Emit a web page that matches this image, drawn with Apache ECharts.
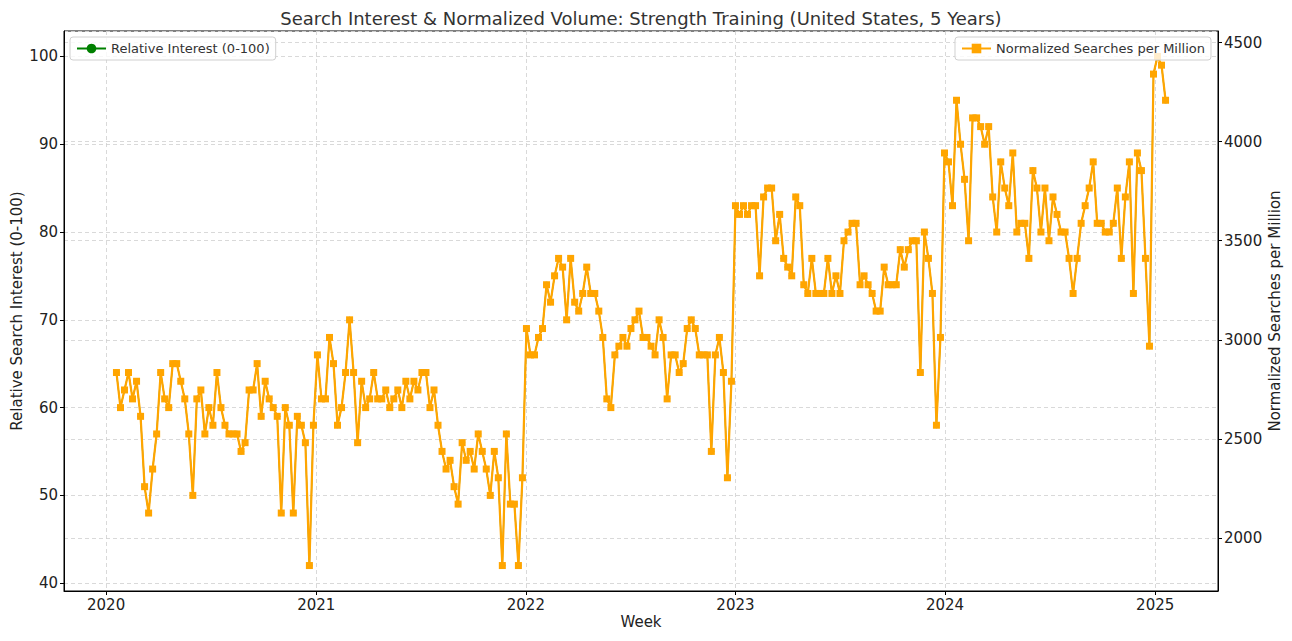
<!DOCTYPE html>
<html>
<head>
<meta charset="utf-8">
<script src="https://cdn.jsdelivr.net/npm/echarts@6/dist/echarts.min.js"></script>
<style>
html,body{margin:0;padding:0;background:#fff;}
#chart{width:1292px;height:641px;}
</style>
</head>
<body>
<div id="chart"></div>
<script>
// ---- Data (weekly, first week starting 2020-01-19) ----
const firstWeek = [2020, 0, 19];

const relativeInterest = [
  64,60,62,64,61,63,59,51,48,53,
  57,64,61,60,65,65,63,61,57,50,
  61,62,57,60,58,64,60,58,57,57,
  57,55,56,62,62,65,59,63,61,60,
  59,48,60,58,48,59,58,56,42,58,
  66,61,61,68,65,58,60,64,70,64,
  56,63,60,61,64,61,61,62,60,61,
  62,60,63,61,63,62,64,64,60,62,
  58,55,53,54,51,49,56,54,55,53,
  57,55,53,50,55,52,42,57,49,49,
  42,52,69,66,66,68,69,74,72,75,
  77,76,70,77,72,71,73,76,73,73,
  71,68,61,60,66,67,68,67,69,70,
  71,68,68,67,66,70,68,61,66,66,
  64,65,69,70,69,66,66,66,55,66,
  68,64,52,63,83,82,83,82,83,83,
  75,84,85,85,79,82,77,76,75,84,
  83,74,73,77,73,73,73,77,73,75,
  73,79,80,81,81,74,75,74,73,71,
  71,76,74,74,74,78,76,78,79,79,
  64,80,77,73,58,68,89,88,83,95,
  90,86,79,93,93,92,90,92,84,80,
  88,85,83,89,80,81,81,77,87,85,
  80,85,79,84,82,80,80,77,73,77,
  81,83,85,88,81,81,80,80,81,85,
  77,84,88,73,89,87,77,67,98,100,99,95
];

const searchesPerMillion = [
  2835,2658,2747,2835,2702,2791,2614,2259,2126,2348,
  2525,2835,2702,2658,2880,2880,2791,2702,2525,2215,
  2702,2747,2525,2658,2569,2835,2658,2569,2525,2525,
  2525,2437,2481,2747,2747,2880,2614,2791,2702,2658,
  2614,2126,2658,2569,2126,2614,2569,2481,1861,2569,
  2924,2702,2702,3012,2880,2569,2658,2835,3101,2835,
  2481,2791,2658,2702,2835,2702,2702,2747,2658,2702,
  2747,2658,2791,2702,2791,2747,2835,2835,2658,2747,
  2569,2437,2348,2392,2259,2171,2481,2392,2437,2348,
  2525,2437,2348,2215,2437,2304,1861,2525,2171,2171,
  1861,2304,3057,2924,2924,3012,3057,3278,3190,3323,
  3411,3367,3101,3411,3190,3145,3234,3367,3234,3234,
  3145,3012,2702,2658,2924,2968,3012,2968,3057,3101,
  3145,3012,3012,2968,2924,3101,3012,2702,2924,2924,
  2835,2880,3057,3101,3057,2924,2924,2924,2437,2924,
  3012,2835,2304,2791,3677,3633,3677,3633,3677,3677,
  3323,3721,3766,3766,3500,3633,3411,3367,3323,3721,
  3677,3278,3234,3411,3234,3234,3234,3411,3234,3323,
  3234,3500,3544,3588,3588,3278,3323,3278,3234,3145,
  3145,3367,3278,3278,3278,3455,3367,3455,3500,3500,
  2835,3544,3411,3234,2569,3012,3943,3898,3677,4209,
  3987,3810,3500,4120,4120,4076,3987,4076,3721,3544,
  3898,3766,3677,3943,3544,3588,3588,3411,3854,3766,
  3544,3766,3500,3721,3633,3544,3544,3411,3234,3411,
  3588,3677,3766,3898,3588,3588,3544,3544,3588,3766,
  3411,3721,3898,3234,3943,3854,3411,2968,4341,4430,4386,4209
];

const seriesNames = ['Relative Interest (0-100)', 'Normalized Searches per Million'];
const titleText = 'Search Interest & Normalized Volume: Strength Training (United States, 5 Years)';
const xAxisTitle = 'Week';
const leftAxisTitle = 'Relative Search Interest (0-100)';
const rightAxisTitle = 'Normalized Searches per Million';

// ---- Build ----
const weeks = relativeInterest.map((_, i) =>
  new Date(firstWeek[0], firstWeek[1], firstWeek[2] + 7 * i).getTime());
const interestData = weeks.map((t, i) => [t, relativeInterest[i]]);
const searchesData = weeks.map((t, i) => [t, searchesPerMillion[i]]);

const span = weeks[weeks.length - 1] - weeks[0];
const xMin = weeks[0] - 0.05 * span;
const xMax = weeks[weeks.length - 1] + 0.05 * span;

const iMin = Math.min(...relativeInterest), iMax = Math.max(...relativeInterest);
const iPad = (iMax - iMin) * 0.05;
const sMin = Math.min(...searchesPerMillion), sMax = Math.max(...searchesPerMillion);
const sPad = (sMax - sMin) * 0.05;

const FONT = 'DejaVu Sans';
const YEAR = 365 * 24 * 3600 * 1000;

const chart = echarts.init(document.getElementById('chart'), null, {renderer: 'svg'});
const gridLine = {show: true, lineStyle: {color: '#cfcfcf', type: [4, 3], width: 0.8}};
const legendBase = {
  orient: 'vertical', backgroundColor: 'rgba(255,255,255,0.8)', borderColor: '#d0d0d0', borderWidth: 1, borderRadius: 3,
  padding: [5, 6, 5, 6], itemWidth: 29, itemHeight: 12, itemGap: 6, z: 10,
  textStyle: {fontFamily: FONT, fontSize: 13, color: '#333'}
};

chart.setOption({
  animation: false,
  backgroundColor: '#fff',
  textStyle: {fontFamily: FONT},
  graphic: [{
    type: 'text', x: 641, y: 18,
    style: {text: titleText, font: '18px "DejaVu Sans"', fill: '#333', textAlign: 'center', textVerticalAlign: 'middle'}
  }],
  grid: {left: 64, right: 74, top: 31, bottom: 50, outerBoundsMode: 'none', containLabel: false,
         show: true, borderColor: '#000', borderWidth: 1, backgroundColor: 'transparent'},
  legend: [
    Object.assign({data: [seriesNames[0]], left: 70, top: 37}, legendBase),
    Object.assign({data: [seriesNames[1]], right: 81, top: 37}, legendBase)
  ],
  xAxis: {
    type: 'time', min: xMin, max: xMax,
    minInterval: YEAR, maxInterval: YEAR * 1.01,
    name: xAxisTitle, nameLocation: 'middle', nameGap: 23, nameMoveOverlap: false,
    nameTextStyle: {fontFamily: FONT, fontSize: 15, color: '#222'},
    axisLine: {show: true, lineStyle: {color: '#000', width: 1}},
    axisTick: {show: true, length: 4, lineStyle: {color: '#000'}},
    axisLabel: {formatter: '{yyyy}', fontFamily: FONT, fontSize: 15, color: '#222', margin: 6, showMinLabel: false, showMaxLabel: false},
    splitLine: gridLine
  },
  yAxis: [
    {
      type: 'value', position: 'left', min: iMin - iPad, max: iMax + iPad,
      name: leftAxisTitle, nameLocation: 'middle', nameGap: 40, nameMoveOverlap: false,
      nameTextStyle: {fontFamily: FONT, fontSize: 15, color: '#222'},
      axisLine: {show: true, lineStyle: {color: '#000', width: 1}},
      axisTick: {show: true, length: 4, lineStyle: {color: '#000'}},
      axisLabel: {fontFamily: FONT, fontSize: 15, color: '#222', margin: 6, showMinLabel: false, showMaxLabel: false},
      splitLine: gridLine
    },
    {
      type: 'value', position: 'right', min: sMin - sPad, max: sMax + sPad,
      name: rightAxisTitle, nameLocation: 'middle', nameGap: 49, nameMoveOverlap: false,
      nameTextStyle: {fontFamily: FONT, fontSize: 15, color: '#222'},
      axisLine: {show: true, lineStyle: {color: '#000', width: 1}},
      axisTick: {show: true, length: 4, lineStyle: {color: '#000'}},
      axisLabel: {formatter: v => String(Math.round(v)), fontFamily: FONT, fontSize: 15, color: '#222', margin: 6, showMinLabel: false, showMaxLabel: false},
      splitLine: gridLine
    }
  ],
  series: [
    {
      name: seriesNames[0], type: 'line', yAxisIndex: 0, data: interestData,
      symbol: 'circle', symbolSize: 6, z: 2,
      itemStyle: {color: '#008000'}, lineStyle: {color: '#008000', width: 1.2}
    },
    {
      name: seriesNames[1], type: 'line', yAxisIndex: 1, data: searchesData,
      symbol: 'rect', symbolSize: 7, z: 3,
      itemStyle: {color: '#FFA500'}, lineStyle: {color: '#FFA500', width: 2.2}
    }
  ]
});
</script>
</body>
</html>
